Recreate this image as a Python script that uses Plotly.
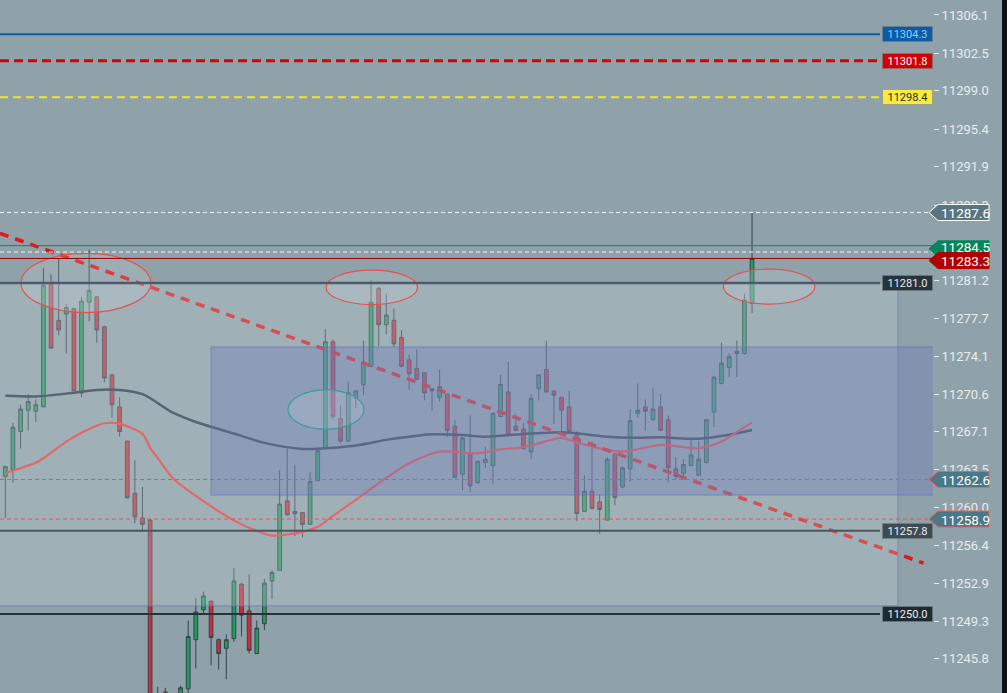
import plotly.graph_objects as go

# ---------------- data ----------------
idx = list(range(99))
opens = [11262.9, 11263.5, 11267.1, 11269.1, 11269.0, 11269.4, 11281.0, 11277.5, 11278.1, 11278.6,
         11270.7, 11279.2, 11279.7, 11276.9, 11272.4, 11269.4, 11266.2, 11261.3, 11259.0, 11258.8,
         11239.5, 11242.7, 11239.5, 11240.0, 11243.0, 11247.6, 11250.4, 11251.2, 11247.6, 11246.8,
         11247.7, 11252.8, 11250.3, 11246.3, 11249.1, 11253.1, 11254.1, 11260.6, 11259.6, 11259.5,
         11258.4, 11262.5, 11265.5, 11275.5, 11268.3, 11266.2, 11270.2, 11271.5, 11273.2, 11280.5,
         11277.1, 11277.5, 11275.9, 11273.8, 11273.0, 11272.6, 11270.9, 11270.3, 11270.6, 11267.6,
         11263.1, 11265.1, 11262.3, 11264.2, 11263.9, 11268.5, 11270.8, 11267.6, 11267.3, 11265.2,
         11271.1, 11272.9, 11270.9, 11270.3, 11269.4, 11267.0, 11259.6, 11261.5, 11260.5, 11258.8,
         11265.0, 11261.9, 11263.6, 11268.8, 11269.4, 11268.2, 11269.4, 11268.2, 11263.6, 11263.2,
         11263.9, 11263.0, 11264.2, 11268.9, 11271.6, 11273.1, 11274.4, 11274.4, 11279.1]
highs = [11263.9, 11267.9, 11269.6, 11270.6, 11270.1, 11282.4, 11281.8, 11283.3, 11279.0, 11278.7,
         11279.7, 11284.1, 11279.8, 11277.0, 11272.4, 11270.3, 11266.2, 11264.4, 11261.9, 11258.9,
         11243.2, 11243.1, 11241.5, 11243.3, 11249.4, 11251.5, 11252.1, 11251.3, 11247.7, 11248.1,
         11254.3, 11252.9, 11253.7, 11249.4, 11253.3, 11254.1, 11263.5, 11265.5, 11264.0, 11259.5,
         11263.3, 11265.3, 11276.7, 11275.7, 11269.5, 11271.8, 11270.9, 11275.6, 11281.2, 11280.6,
         11280.0, 11278.6, 11276.6, 11274.3, 11274.8, 11272.6, 11271.1, 11272.9, 11270.6, 11268.2,
         11266.6, 11268.6, 11264.3, 11265.7, 11268.9, 11272.4, 11273.6, 11268.7, 11267.9, 11270.6,
         11272.4, 11275.6, 11270.9, 11270.3, 11270.9, 11267.1, 11263.0, 11266.2, 11261.2, 11264.7,
         11265.0, 11263.8, 11269.2, 11271.6, 11270.1, 11271.2, 11270.6, 11268.6, 11264.7, 11264.5,
         11266.3, 11266.2, 11268.2, 11272.2, 11275.4, 11274.4, 11275.6, 11280.0, 11287.6]
lows = [11259.0, 11262.3, 11265.5, 11267.2, 11268.0, 11269.4, 11274.9, 11276.1, 11274.4, 11270.9,
        11270.3, 11277.4, 11275.4, 11271.7, 11268.4, 11266.6, 11260.8, 11258.5, 11257.9, 11236.0,
        11236.5, 11237.0, 11236.5, 11238.0, 11242.0, 11244.9, 11249.9, 11245.2, 11244.8, 11243.9,
        11247.4, 11247.9, 11246.3, 11246.3, 11248.5, 11251.4, 11254.1, 11259.2, 11257.3, 11257.2,
        11258.4, 11262.5, 11265.5, 11268.2, 11266.0, 11266.1, 11269.3, 11270.5, 11273.1, 11275.1,
        11276.2, 11275.0, 11273.1, 11271.0, 11271.9, 11270.0, 11269.0, 11269.9, 11266.6, 11262.8,
        11261.6, 11261.4, 11262.2, 11263.7, 11262.2, 11268.5, 11266.8, 11267.1, 11265.4, 11264.5,
        11270.0, 11270.7, 11267.8, 11267.1, 11267.1, 11258.7, 11259.6, 11259.8, 11257.5, 11258.8,
        11260.2, 11261.8, 11262.4, 11268.4, 11267.2, 11268.1, 11267.2, 11262.3, 11262.6, 11262.8,
        11263.9, 11262.9, 11264.1, 11267.5, 11271.5, 11272.2, 11272.2, 11274.3, 11278.2]
closes = [11263.8, 11267.5, 11269.2, 11269.9, 11269.6, 11280.8, 11274.9, 11276.6, 11278.7, 11270.9,
          11279.3, 11280.3, 11276.6, 11272.1, 11269.6, 11267.1, 11260.9, 11259.1, 11258.4, 11238.0,
          11240.0, 11239.5, 11240.5, 11243.1, 11247.9, 11250.2, 11251.7, 11247.8, 11246.3, 11247.6,
          11253.1, 11249.9, 11246.6, 11248.7, 11252.9, 11253.9, 11260.3, 11259.3, 11259.4, 11258.4,
          11262.4, 11265.3, 11275.5, 11268.5, 11266.2, 11270.7, 11270.9, 11273.6, 11279.2, 11277.1,
          11278.0, 11275.3, 11273.2, 11272.5, 11272.0, 11270.7, 11271.1, 11271.3, 11267.2, 11262.8,
          11266.5, 11262.0, 11264.3, 11264.5, 11268.8, 11271.5, 11266.8, 11267.2, 11265.5, 11270.2,
          11272.4, 11270.8, 11270.5, 11269.1, 11267.1, 11259.4, 11261.5, 11259.9, 11259.8, 11264.5,
          11260.9, 11263.7, 11268.1, 11269.1, 11269.0, 11269.2, 11267.2, 11263.7, 11262.9, 11264.0,
          11264.9, 11264.5, 11268.2, 11272.2, 11273.5, 11274.1, 11274.6, 11279.4, 11283.3]

ma_slow_x = [0, 4, 9, 12, 15, 18, 22, 25, 30, 34, 39, 42, 46, 50, 53, 56, 60, 63, 68, 73, 75, 79, 83, 86, 91, 95, 98]
ma_slow_y = [11270.45, 11270.38, 11270.73, 11270.99, 11270.99, 11270.59, 11268.86, 11267.99, 11266.91, 11266.03,
             11265.46, 11265.53, 11265.79, 11266.31, 11266.61, 11266.84, 11266.77, 11266.61, 11266.87, 11267.03,
             11266.93, 11266.61, 11266.52, 11266.56, 11266.42, 11266.79, 11267.24]
ma_fast_x = [0, 4, 5, 8, 11, 13, 15, 18, 19, 20, 22, 25, 30, 33, 35, 39, 41, 43, 46, 50, 53, 57, 62, 65, 68,
             73, 74, 77, 81, 86, 91, 94, 96, 98]
ma_fast_y = [11263.2, 11264.18, 11264.59, 11266.15, 11267.34, 11267.87, 11267.81, 11266.87, 11265.56, 11264.62,
             11262.72, 11261.06, 11258.77, 11257.79, 11257.35, 11257.70, 11258.17, 11259.20, 11260.69, 11262.75,
             11264.12, 11265.21, 11265.06, 11265.43, 11265.62, 11266.49, 11266.31, 11265.68, 11265.21, 11265.84,
             11265.53, 11266.15, 11267.06, 11267.93]

tick_vals = [11306.1, 11302.5, 11299.0, 11295.4, 11291.9, 11288.3, 11281.2, 11277.7,
             11274.1, 11270.6, 11267.1, 11263.5, 11260.0, 11256.4, 11252.9, 11249.3, 11245.8]
tick_text = ["%.1f" % v for v in tick_vals]

trend_x = [-0.7, 120.5]
trend_y = [11285.65, 11254.77]

zone_light = dict(x0=-5, x1=117.15, y0=11250.77, y1=11281.0)
zone_blue = dict(x0=27.0, x1=130, y0=11261.16, y1=11275.0)

ellipses = [  # x0, x1, y0, y1, color
    (2.06, 19.08, 11278.23, 11283.78, "#e85050"),
    (42.09, 54.10, 11278.98, 11282.20, "#e85050"),
    (94.23, 106.26, 11279.03, 11282.30, "#e85050"),
    (37.10, 47.07, 11267.31, 11270.99, "#3a9c9c"),
]

XMIN, XMAX = -0.7, 121.75
YMIN, YMAX = 11242.61, 11307.5
LBL_X = 114.8  # where boxed labels start

# level lines: price, color, width, dash, label box fill, label text colour
box_levels = [
    (11304.3, "#0d5eaa", 2, "solid", "#0b5ba5", "#8fcfff"),
    (11301.8, "#d60000", 3, "9px,5px", "#d40000", "#ffffff"),
    (11298.4, "#f2e232", 2, "8px,5px", "#f8eb3c", "#2a2a2a"),
    (11281.0, "#4c5b6d", 2.5, "solid", "#27343b", "#e6e9eb"),
    (11257.8, "#4a585e", 2, "solid", "#3d4b52", "#eef0f1"),
    (11250.0, "#25333a", 2, "solid", "#1e2a30", "#eef0f1"),
]
edge_levels = [
    (11287.6, "rgba(255,255,255,0.9)", 1, "4px,3px"),
    (11284.5, "#0b8a5c", 1, "solid"),
    (11283.9, "rgba(255,255,255,0.9)", 1, "4px,3px"),
    (11283.3, "#9c0000", 1, "solid"),
    (11262.6, "#ff4a4a", 1, "4px,3px"),
    (11258.9, "#ff4a4a", 1, "4px,3px"),
]
# arrow tags on the axis: label value, tag centre price, text centre price, fill, border
arrow_tags = [
    (11287.6, 11287.6, 11287.6, "#5a7480", "#ffffff"),
    (11284.5, 11284.2, 11284.4, "#07855a", "#07855a"),
    (11283.3, 11283.1, 11283.1, "#b20000", "#b20000"),
    (11262.6, 11262.6, 11262.6, "#4b7886", "#ff5a5a"),
    (11258.9, 11258.9, 11258.9, "#4b7886", "#ff5a5a"),
]

FONT = "Roboto"

fig = go.Figure()
fig.add_trace(go.Candlestick(
    x=idx, open=opens, high=highs, low=lows, close=closes,
    increasing=dict(line=dict(color="#34444e", width=1), fillcolor="#1f9d5d"),
    decreasing=dict(line=dict(color="#34444e", width=1), fillcolor="#d42a38"),
    whiskerwidth=0, hoverinfo="skip", showlegend=False,
))
fig.add_trace(go.Scatter(x=ma_slow_x, y=ma_slow_y, mode="lines",
                         line=dict(color="#2a3645", width=2.5, shape="spline", smoothing=0.8),
                         hoverinfo="skip", showlegend=False))
fig.add_trace(go.Scatter(x=ma_fast_x, y=ma_fast_y, mode="lines",
                         line=dict(color="#f03c3c", width=2.2, shape="spline", smoothing=0.8),
                         hoverinfo="skip", showlegend=False))

shapes = []
shapes.append(dict(type="line", xref="x", yref="y", x0=trend_x[0], x1=trend_x[1],
                   y0=trend_y[0], y1=trend_y[1], layer="above",
                   line=dict(color="#e01818", width=3.5, dash="9px,7px")))
shapes.append(dict(type="rect", xref="x", yref="y", layer="above",
                   fillcolor="rgba(200,210,215,0.30)",
                   line=dict(color="rgba(105,120,185,0.45)", width=1.5), **zone_light))
shapes.append(dict(type="rect", xref="x", yref="y", layer="above",
                   fillcolor="rgba(100,113,189,0.30)",
                   line=dict(color="rgba(100,113,189,0.45)", width=1.5), **zone_blue))
for (ex0, ex1, ey0, ey1, ec) in ellipses:
    shapes.append(dict(type="circle", xref="x", yref="y", layer="above",
                       x0=ex0, x1=ex1, y0=ey0, y1=ey1,
                       fillcolor="rgba(215,225,230,0.18)", line=dict(color=ec, width=1.2)))
for (p, c, w, d, bf, tc) in box_levels:
    shapes.append(dict(type="line", xref="x", yref="y", layer="above",
                       x0=XMIN, x1=LBL_X, y0=p, y1=p, line=dict(color=c, width=w, dash=d)))
for (p, c, w, d) in edge_levels:
    shapes.append(dict(type="line", xref="x", yref="y", layer="above",
                       x0=XMIN, x1=XMAX, y0=p, y1=p, line=dict(color=c, width=w, dash=d)))
for (lab, p, tp, fc, bc) in arrow_tags:
    shapes.append(dict(type="path", xref="paper", yref="y", layer="above",
                       xsizemode="pixel", xanchor=1, ysizemode="pixel", yanchor=p,
                       path="M-4,0 L5,8 L56,8 L56,-8 L5,-8 Z",
                       fillcolor=fc, line=dict(color=bc, width=1)))
# dark strip at the far right
shapes.append(dict(type="rect", xref="paper", yref="paper", layer="above",
                   xsizemode="pixel", xanchor=1, x0=69, x1=80, y0=0, y1=1,
                   fillcolor="#0f1214", line=dict(width=0)))

annotations = []
for (p, c, w, d, bf, tc) in box_levels:
    annotations.append(dict(xref="paper", yref="y", x=1, y=p, xanchor="right", yanchor="middle",
                            text="%.1f" % p, showarrow=False, width=47, height=12,
                            bgcolor=bf, bordercolor="rgba(120,130,140,0.5)", borderwidth=1, borderpad=1,
                            font=dict(family=FONT, size=11, color=tc)))
for (lab, p, tp, fc, bc) in arrow_tags:
    annotations.append(dict(xref="paper", yref="y", x=1, y=tp, xanchor="left", yanchor="middle",
                            xshift=6, text="%.1f" % lab, showarrow=False, height=13,
                            font=dict(family=FONT, size=13.5, color="#ffffff")))

fig.update_layout(
    width=1007, height=693,
    margin=dict(l=0, r=74, t=0, b=0, pad=0),
    paper_bgcolor="#8fa2a9", plot_bgcolor="#8fa2a9",
    showlegend=False,
    shapes=shapes, annotations=annotations,
    xaxis=dict(range=[XMIN, XMAX], visible=False, rangeslider=dict(visible=False), fixedrange=True),
    yaxis=dict(range=[YMIN, YMAX], side="right", tickvals=tick_vals, ticktext=tick_text,
               ticks="outside", ticklen=5, tickwidth=1, tickcolor="#e4eaec",
               tickfont=dict(family=FONT, size=13, color="#e8edef"),
               showgrid=False, zeroline=False, showline=False, fixedrange=True),
)

fig.write_html("out.html", config={"displayModeBar": False},
               post_script="document.body.style.margin='0';document.body.style.overflow='hidden';")
